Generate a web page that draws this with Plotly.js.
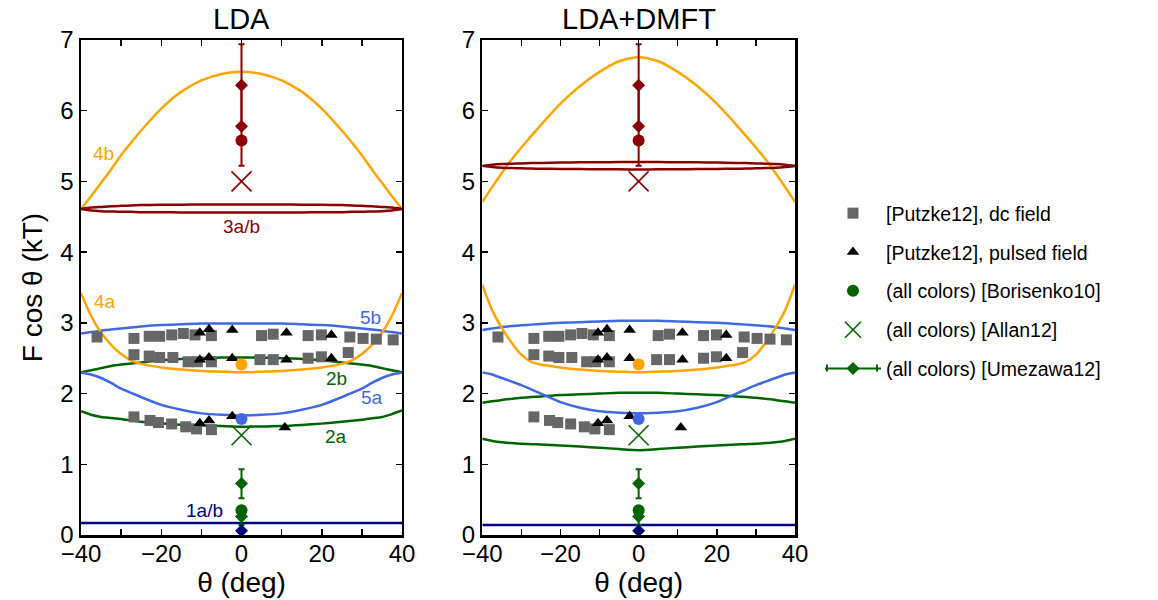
<!DOCTYPE html>
<html>
<head>
<meta charset="utf-8">
<script src="https://cdn.plot.ly/plotly-3.0.1.min.js"></script>
<style>html,body{margin:0;padding:0;background:#fff;}#chart{width:1158px;height:600px;}</style>
</head>
<body>
<div id="chart"></div>
<script>
// ---------- data ----------
const theta = [-40,-37.5,-35,-32.5,-30,-27.5,-25,-20,-15,-10,-5,0,5,10,15,20,25,27.5,30,32.5,35,37.5,40];

// LDA bands
const lda_1ab = [0.17,0.17,0.17,0.17,0.17,0.17,0.17,0.17,0.17,0.17,0.17,0.17,0.17,0.17,0.17,0.17,0.17,0.17,0.17,0.17,0.17,0.17,0.17];
const lda_3a = [4.61,4.63,4.64,4.65,4.655,4.66,4.665,4.67,4.67,4.675,4.675,4.675,4.675,4.675,4.67,4.67,4.665,4.66,4.655,4.65,4.64,4.63,4.61];
const lda_3b = [4.61,4.59,4.58,4.575,4.57,4.57,4.565,4.565,4.56,4.56,4.56,4.56,4.56,4.56,4.56,4.565,4.565,4.57,4.57,4.575,4.58,4.59,4.61];
const lda_4b = [4.61,4.79,4.98,5.17,5.37,5.55,5.72,6.03,6.27,6.43,6.52,6.55,6.52,6.43,6.27,6.03,5.72,5.55,5.37,5.17,4.98,4.79,4.61];
const lda_4a = [3.42,3.10,2.86,2.69,2.56,2.47,2.42,2.37,2.34,2.32,2.31,2.30,2.31,2.32,2.34,2.37,2.42,2.47,2.56,2.69,2.86,3.10,3.42];
const lda_5b = [2.85,2.87,2.89,2.905,2.92,2.935,2.95,2.97,2.98,2.99,2.99,2.99,2.99,2.99,2.98,2.97,2.95,2.935,2.92,2.905,2.89,2.87,2.85];
const lda_2b = [2.30,2.33,2.36,2.39,2.41,2.425,2.44,2.47,2.49,2.50,2.51,2.51,2.51,2.50,2.49,2.47,2.44,2.425,2.41,2.39,2.36,2.33,2.30];
const lda_5a = [2.30,2.27,2.22,2.15,2.07,2.01,1.95,1.84,1.77,1.72,1.70,1.69,1.70,1.72,1.77,1.84,1.95,2.01,2.07,2.15,2.22,2.27,2.30];
const lda_2a = [1.75,1.70,1.67,1.655,1.64,1.62,1.60,1.58,1.56,1.55,1.54,1.53,1.535,1.54,1.555,1.575,1.60,1.615,1.63,1.65,1.67,1.71,1.76];

// LDA+DMFT bands
const dmft_1ab = [0.14,0.14,0.14,0.14,0.14,0.14,0.14,0.14,0.14,0.14,0.14,0.14,0.14,0.14,0.14,0.14,0.14,0.14,0.14,0.14,0.14,0.14,0.14];
const dmft_3a = [5.22,5.235,5.245,5.25,5.255,5.26,5.262,5.267,5.27,5.272,5.273,5.273,5.273,5.272,5.27,5.267,5.262,5.26,5.255,5.25,5.245,5.235,5.22];
const dmft_3b = [5.22,5.205,5.195,5.19,5.185,5.182,5.18,5.177,5.175,5.172,5.171,5.17,5.171,5.172,5.175,5.177,5.18,5.182,5.185,5.19,5.195,5.205,5.22];
const dmft_4b = [4.71,4.92,5.12,5.31,5.48,5.64,5.80,6.10,6.35,6.55,6.70,6.76,6.70,6.55,6.35,6.10,5.80,5.64,5.48,5.31,5.12,4.92,4.71];
const dmft_4a = [3.54,3.18,2.93,2.72,2.55,2.45,2.41,2.37,2.34,2.32,2.31,2.30,2.31,2.32,2.34,2.37,2.41,2.45,2.55,2.72,2.93,3.18,3.54];
const dmft_5b = [2.90,2.92,2.94,2.955,2.965,2.975,2.985,3.00,3.01,3.02,3.03,3.03,3.03,3.02,3.01,3.00,2.985,2.975,2.965,2.955,2.94,2.92,2.90];
const dmft_5a = [2.30,2.27,2.22,2.17,2.12,2.06,2.00,1.88,1.80,1.75,1.73,1.72,1.73,1.75,1.80,1.88,2.00,2.06,2.12,2.17,2.22,2.27,2.30];
const dmft_2b = [1.87,1.89,1.91,1.925,1.94,1.95,1.96,1.98,1.99,2.00,2.01,2.01,2.01,2.00,1.99,1.98,1.96,1.95,1.94,1.925,1.91,1.89,1.87];
const dmft_2a = [1.36,1.33,1.31,1.30,1.29,1.285,1.28,1.265,1.25,1.235,1.215,1.20,1.215,1.235,1.25,1.265,1.28,1.285,1.29,1.30,1.31,1.33,1.36];

// Experimental data [Putzke12]
const dcTheta = [-36.0,-26.8,-23.0,-20.4,-17.4,-14.5,-11.6,-7.5,5.0,7.9,16.6,19.9,27.0,30.3,33.6,37.8,
                 -26.8,-23.0,-20.4,-17.1,-13.3,-11.0,-7.5,4.6,7.9,16.6,19.9,26.6,
                 -26.8,-22.8,-20.7,-17.4,-13.9,-11.2,-7.5];
const dcF = [2.80,2.78,2.81,2.81,2.83,2.85,2.83,2.82,2.82,2.84,2.82,2.83,2.80,2.78,2.77,2.76,
             2.55,2.53,2.51,2.51,2.45,2.45,2.45,2.48,2.48,2.50,2.52,2.58,
             1.67,1.62,1.59,1.57,1.53,1.50,1.49];
const pulsedTheta = [-10.4,-8.1,-2.3,11.2,22.4, -10.4,-8.1,-2.3,11.2,22.4, -10.4,-8.1,-2.3,10.8];
const pulsedF = [2.86,2.91,2.90,2.86,2.83, 2.48,2.51,2.50,2.48,2.50, 1.58,1.62,1.68,1.52];

// Borisenko10 (circles), Allan12 (crosses), Umezawa12 (diamonds with error bars) at theta = 0
const boriColors = ['#8B0000','#FFA500','#4169E1','#006400'];
const boriF = [5.58, 2.41, 1.64, 0.35];
const allanColors = ['#8B0000','#006400'];
const allanF = [5.00, 1.41];
const umeRedF = [6.36, 5.78];
const umeRedPlus = [0.58, 0.58];
const umeRedMinus = [0.58, 0.56];
const umeGreenF = [0.73, 0.26];
const umeGreenPlus = [0.20, 0.10];
const umeGreenMinus = [0.21, 0.12];
const umeNavyF = [0.06];

const legendNames = ['[Putzke12], dc field','[Putzke12], pulsed field','(all colors) [Borisenko10]','(all colors) [Allan12]','(all colors) [Umezawa12]'];

// ---------- styling ----------
const C = {orange:'#FFA500', blue:'#4169E1', green:'#006400', red:'#8B0000', navy:'#000080', gray:'#666666'};
const FONT = 'Liberation Sans, Arial, Helvetica, sans-serif';

const traces = [];
function band(y, color, xa, ya) {
  traces.push({x: theta, y: y, type:'scatter', mode:'lines', xaxis:xa, yaxis:ya,
    line:{color:color, width:2.5, shape:'spline', smoothing:0.6}, showlegend:false, hoverinfo:'skip'});
}
function panel(xa, ya, b, first) {
  band(b.b1, C.navy, xa, ya);
  band(b.a2, C.green, xa, ya);
  band(b.b2, C.green, xa, ya);
  band(b.a5, C.blue, xa, ya);
  band(b.b5, C.blue, xa, ya);
  band(b.a4, C.orange, xa, ya);
  band(b.b4, C.orange, xa, ya);
  band(b.a3, C.red, xa, ya);
  band(b.b3, C.red, xa, ya);
  traces.push({x: dcTheta, y: dcF, type:'scatter', mode:'markers', xaxis:xa, yaxis:ya,
    marker:{symbol:'square', size:11, color:C.gray}, name:legendNames[0], showlegend:first, legendrank:1, legendgroup:'g1'});
  traces.push({x: pulsedTheta, y: pulsedF, type:'scatter', mode:'markers', xaxis:xa, yaxis:ya,
    marker:{symbol:'triangle-up', size:11, color:'#000'}, name:legendNames[1], showlegend:first, legendrank:2, legendgroup:'g2'});
  traces.push({x: umeRedF.map(()=>0), y: umeRedF, type:'scatter', mode:'markers', xaxis:xa, yaxis:ya,
    marker:{symbol:'diamond', size:10, color:C.red},
    error_y:{type:'data', symmetric:false, array:umeRedPlus, arrayminus:umeRedMinus, color:C.red, thickness:2, width:3},
    showlegend:false});
  traces.push({x: umeGreenF.map(()=>0), y: umeGreenF, type:'scatter', mode:'markers', xaxis:xa, yaxis:ya,
    marker:{symbol:'diamond', size:10, color:C.green},
    error_y:{type:'data', symmetric:false, array:umeGreenPlus, arrayminus:umeGreenMinus, color:C.green, thickness:2, width:3},
    showlegend:false});
  traces.push({x: umeNavyF.map(()=>0), y: umeNavyF, type:'scatter', mode:'markers', xaxis:xa, yaxis:ya,
    marker:{symbol:'diamond', size:10, color:C.navy}, showlegend:false});
  traces.push({x: boriF.map(()=>0), y: boriF, type:'scatter', mode:'markers', xaxis:xa, yaxis:ya,
    marker:{symbol:'circle', size:12, color:boriColors}, showlegend:false});
  traces.push({x: allanF.map(()=>0), y: allanF, type:'scatter', mode:'markers', xaxis:xa, yaxis:ya,
    marker:{symbol:'x-thin', size:20, color:allanColors, line:{color:allanColors, width:1.6}}, showlegend:false});
}
panel('x','y',{b1:lda_1ab,a2:lda_2a,b2:lda_2b,a5:lda_5a,b5:lda_5b,a4:lda_4a,b4:lda_4b,a3:lda_3a,b3:lda_3b}, true);
panel('x2','y2',{b1:dmft_1ab,a2:dmft_2a,b2:dmft_2b,a5:dmft_5a,b5:dmft_5b,a4:dmft_4a,b4:dmft_4b,a3:dmft_3a,b3:dmft_3b}, false);

// legend-only entries
traces.push({x:[null], y:[null], type:'scatter', mode:'markers', marker:{symbol:'circle', size:12, color:C.green},
  name:legendNames[2], legendrank:3, legendgroup:'g3'});
traces.push({x:[null], y:[null], type:'scatter', mode:'markers', marker:{symbol:'x-thin', size:20, color:C.green, line:{color:C.green, width:1.6}},
  name:legendNames[3], legendrank:4, legendgroup:'g4'});
traces.push({x:[null], y:[null], type:'scatter', mode:'lines+markers', marker:{symbol:'diamond', size:10, color:C.green},
  line:{color:C.green, width:2}, name:legendNames[4], legendrank:5, legendgroup:'g5'});

const xTickVals = [-40,-30,-20,-10,0,10,20,30,40];
const xTickText = ['\u221240','','\u221220','','0','','20','','40'];
const yTickVals = [0,1,2,3,4,5,6,7];

function xaxis(domain, anchor) {
  return {domain:domain, anchor:anchor, range:[-40,40], tickvals:xTickVals, ticktext:xTickText,
    ticks:'inside', ticklen:6, tickwidth:1.5, tickcolor:'#000', showline:true, linecolor:'#000', linewidth:2.5,
    mirror:'allticks', showgrid:false, zeroline:false, tickfont:{size:24, family:FONT, color:'#000'},
    ticklabelstandoff:-4,
    title:{text:'\u03b8 (deg)', font:{size:28, family:FONT, color:'#000'}, standoff:0}};
}
function yaxis(anchor, withTitle) {
  const a = {domain:[0.10833,0.93333], anchor:anchor, range:[0,7], tickvals:yTickVals,
    ticks:'inside', ticklen:6, tickwidth:1.5, tickcolor:'#000', showline:true, linecolor:'#000', linewidth:2.5,
    mirror:'allticks', showgrid:false, zeroline:false, tickfont:{size:24, family:FONT, color:'#000'}};
  if (withTitle) a.title = {text:'F cos \u03b8 (kT)', font:{size:28, family:FONT, color:'#000'}, standoff:10};
  return a;
}

const labels = [
  {t:'4b', x:-34.3, y:5.40, c:C.orange},
  {t:'3a/b', x:0, y:4.36, c:C.red},
  {t:'4a', x:-34.1, y:3.30, c:C.orange},
  {t:'5b', x:32.2, y:3.08, c:C.blue},
  {t:'2b', x:23.7, y:2.21, c:C.green},
  {t:'5a', x:32.5, y:1.95, c:C.blue},
  {t:'2a', x:23.5, y:1.39, c:C.green},
  {t:'1a/b', x:-9.1, y:0.35, c:C.navy}
];
const annotations = labels.map(l => ({text:l.t, x:l.x, y:l.y, xref:'x', yref:'y', showarrow:false,
  font:{size:19, family:FONT, color:l.c}}));
annotations.push({text:'LDA', xref:'x domain', yref:'y domain', x:0.5, y:1, yanchor:'bottom', yshift:3, showarrow:false,
  font:{size:29, family:FONT, color:'#000'}});
annotations.push({text:'LDA+DMFT', xref:'x2 domain', yref:'y2 domain', x:0.5, y:1, yanchor:'bottom', yshift:3, showarrow:false,
  font:{size:29, family:FONT, color:'#000'}});

// error-bar caps for the Umezawa legend symbol
const capStyle = {type:'line', xref:'paper', yref:'paper', line:{color:C.green, width:2}};
const shapes = [
  Object.assign({x0:827/1158, x1:827/1158, y0:1-364.5/600, y1:1-371.5/600}, capStyle),
  Object.assign({x0:877/1158, x1:877/1158, y0:1-364.5/600, y1:1-371.5/600}, capStyle)
];

const layout = {
  width:1158, height:600, margin:{l:0, r:0, t:0, b:0}, paper_bgcolor:'#fff', plot_bgcolor:'#fff',
  font:{family:FONT, color:'#000'},
  xaxis: xaxis([0.06995,0.34715],'y'),
  yaxis: yaxis('x', true),
  xaxis2: xaxis([0.41649,0.68653],'y2'),
  yaxis2: yaxis('x2', false),
  showlegend:true,
  legend:{x:0.7081, y:0.6767, xanchor:'left', yanchor:'top', font:{size:19.5, family:FONT, color:'#000'},
    bgcolor:'rgba(0,0,0,0)', borderwidth:0, tracegroupgap:10.5, itemwidth:56, traceorder:'grouped'},
  annotations: annotations,
  shapes: shapes
};

Plotly.newPlot('chart', traces, layout, {displayModeBar:false, staticPlot:true});
</script>
</body>
</html>
